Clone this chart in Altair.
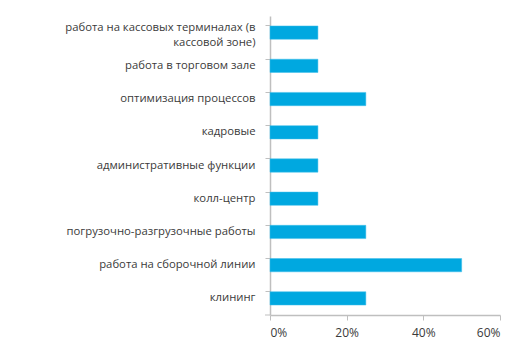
import altair as alt
import pandas as pd

categories = [
    "работа на кассовых терминалах (в|кассовой зоне)",
    "работа в торговом зале",
    "оптимизация процессов",
    "кадровые",
    "административные функции",
    "колл-центр",
    "погрузочно-разгрузочные работы",
    "работа на сборочной линии",
    "клининг",
]
values = [0.125, 0.125, 0.25, 0.125, 0.125, 0.125, 0.25, 0.50, 0.25]
x_ticks = [0, 0.2, 0.4, 0.6]

df = pd.DataFrame({"cat": categories, "val": values})

FONT = "Open Sans"
TXT = "#3A3A3A"
AX = "#BFBFBF"

bars = alt.Chart(df).mark_bar(color="#00A8E0", stroke="#3FBFEA", strokeWidth=0.5).encode(
    y=alt.Y("cat:N", sort=None, title=None,
            scale=alt.Scale(paddingInner=0.6, paddingOuter=0.3),
            axis=alt.Axis(labelExpr="split(datum.label, '|')", bandPosition=0,
                          tickSize=5, tickColor=AX, domainColor=AX, domainWidth=1.5,
                          labelPadding=10, labelFont=FONT, labelFontSize=11.3,
                          labelOffset={"condition": {"test": "indexof(datum.value, '|') >= 0", "value": -5}, "value": 0},
                          labelColor=TXT, labelLineHeight=15.5, labelLimit=300)),
    x=alt.X("val:Q", title=None,
            scale=alt.Scale(domain=[0, 0.6]),
            axis=alt.Axis(values=x_ticks, format=".0%", grid=False,
                          tickSize=5, tickColor=AX, domainColor=AX, domainWidth=1.5,
                          labelPadding=7, labelFont=FONT, labelFontSize=12,
                          labelColor=TXT)),
)

bottom_tick = alt.Chart(pd.DataFrame({"k": [0]})).mark_rule(color=AX, strokeWidth=1).encode(
    x=alt.value(-5), x2=alt.value(0), y=alt.value(299)
)

chart = alt.layer(bars, bottom_tick).properties(
    width=230, height=299,
    autosize=alt.AutoSizeParams(type="none"),
    padding={"left": 270, "top": 16, "right": 21, "bottom": 37},
).configure_view(stroke=None)

chart.save("out.html", embed_options={"renderer": "svg", "actions": False})
